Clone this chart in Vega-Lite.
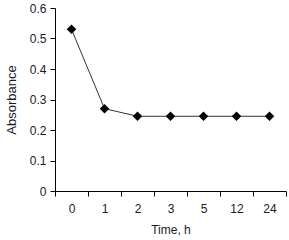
{
  "$schema": "https://vega.github.io/schema/vega-lite/v6.json",
  "width": 231,
  "height": 183,
  "autosize": {"type": "none"},
  "padding": {"left": 55, "top": 8, "right": 3, "bottom": 49},
  "background": "white",
  "config": {
    "view": {"stroke": null},
    "font": "Liberation Sans",
    "axis": {
      "domainColor": "#000",
      "tickColor": "#000",
      "labelColor": "#1a1a2a",
      "titleColor": "#1a1a2a",
      "labelFont": "Liberation Sans",
      "titleFont": "Liberation Sans",
      "labelFontSize": 12,
      "titleFontSize": 12,
      "titleFontWeight": "normal",
      "grid": false,
      "tickSize": 5
    }
  },
  "data": {
    "values": [
      {"time": "0", "absorbance": 0.53},
      {"time": "1", "absorbance": 0.27},
      {"time": "2", "absorbance": 0.245},
      {"time": "3", "absorbance": 0.245},
      {"time": "5", "absorbance": 0.245},
      {"time": "12", "absorbance": 0.245},
      {"time": "24", "absorbance": 0.245}
    ]
  },
  "encoding": {
    "x": {
      "field": "time",
      "type": "ordinal",
      "sort": null,
      "scale": {"paddingInner": 0, "paddingOuter": 0},
      "axis": {
        "title": "Time, h",
        "labelAngle": 0,
        "tickBand": "extent",
        "labelPadding": 7,
        "titlePadding": 10
      }
    },
    "y": {
      "field": "absorbance",
      "type": "quantitative",
      "scale": {"domain": [0, 0.6], "nice": false},
      "axis": {
        "title": "Absorbance",
        "titleFontSize": 13,
        "values": [0, 0.1, 0.2, 0.3, 0.4, 0.5, 0.6],
        "labelExpr": "datum.value == 0 ? '0' : format(datum.value, '.1f')",
        "labelPadding": 4,
        "titlePadding": 11
      }
    }
  },
  "layer": [
    {"mark": {"type": "line", "color": "#333", "strokeWidth": 1}},
    {"mark": {"type": "point", "shape": "diamond", "filled": true, "color": "#000", "opacity": 1, "size": 90}}
  ]
}
